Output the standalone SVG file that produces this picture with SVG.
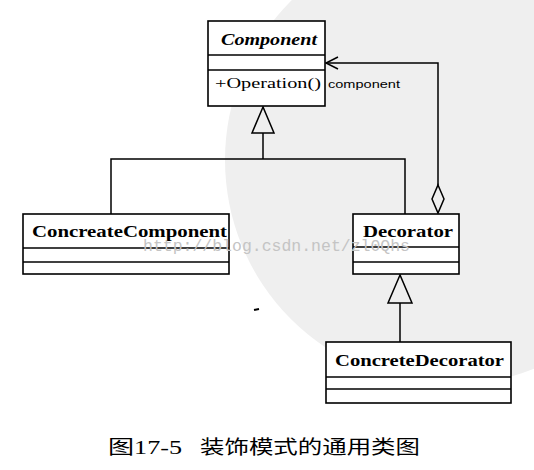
<svg xmlns="http://www.w3.org/2000/svg" width="534" height="470" viewBox="0 0 534 470">
<defs>
<style>
.box{fill:#fff;stroke:#000;stroke-width:1.6}
.ln{fill:none;stroke:#000;stroke-width:1.5}
.name{font-family:"Liberation Serif",serif;font-weight:bold;font-size:16px;fill:#000}
.it{font-style:italic}
.op{font-family:"Liberation Serif",serif;font-size:15px;fill:#000}
.lbl{font-family:"Liberation Sans",sans-serif;font-size:11px;fill:#000}
.wm{font-family:"Liberation Mono",monospace;font-size:16px;fill:#c4c4c4}
.cap{font-family:"Liberation Serif","Noto Sans CJK SC",serif;font-size:19px;fill:#000}
</style>
<clipPath id="clip"><rect x="0" y="0" width="534" height="410"/></clipPath>
</defs>
<rect width="534" height="470" fill="#fff"/>
<g clip-path="url(#clip)">
<circle cx="450" cy="160" r="225" fill="#efefef"/>
</g>
<g id="connectors">
<polyline class="ln" points="263,133 263,159"/>
<polyline class="ln" points="111,214 111,159 405,159 405,214"/>
<polygon class="ln" points="263,107 252,133 274,133" fill="#fff"/>
<polyline class="ln" points="438,185 438,63 326,63"/>
<polyline class="ln" points="338,57 326,63 338,69"/>
<polygon class="ln" points="438,185 444,199 438,213 432,199" fill="#fff"/>
<polyline class="ln" points="400,303 400,342"/>
<polygon class="ln" points="400,275 388,303 412,303" fill="#fff"/>
</g>
<g id="Component">
<rect class="box" x="208" y="21" width="117" height="85"/>
<line class="ln" x1="208" y1="55" x2="325" y2="55"/>
<line class="ln" x1="208" y1="70" x2="325" y2="70"/>
<text class="name it" x="221" y="45" textLength="96" lengthAdjust="spacingAndGlyphs">Component</text>
<text class="op" x="215" y="88" textLength="106" lengthAdjust="spacingAndGlyphs">+Operation()</text>
<text class="lbl" x="328" y="88" textLength="72" lengthAdjust="spacingAndGlyphs">component</text>
</g>
<g id="ConcreateComponent">
<rect class="box" x="23" y="214" width="206" height="60"/>
<line class="ln" x1="23" y1="248" x2="229" y2="248"/>
<line class="ln" x1="23" y1="262" x2="229" y2="262"/>
<text class="name" x="32" y="237" textLength="195" lengthAdjust="spacingAndGlyphs">ConcreateComponent</text>
</g>
<g id="Decorator">
<rect class="box" x="353" y="214" width="106" height="60"/>
<line class="ln" x1="353" y1="247" x2="459" y2="247"/>
<line class="ln" x1="353" y1="262" x2="459" y2="262"/>
<text class="name" x="363" y="237" textLength="90" lengthAdjust="spacingAndGlyphs">Decorator</text>
</g>
<g id="ConcreteDecorator">
<rect class="box" x="326" y="342" width="185" height="61"/>
<line class="ln" x1="326" y1="377" x2="511" y2="377"/>
<line class="ln" x1="326" y1="389" x2="511" y2="389"/>
<text class="name" x="335" y="366" textLength="169" lengthAdjust="spacingAndGlyphs">ConcreteDecorator</text>
</g>
<text class="wm" x="143" y="251" textLength="267" lengthAdjust="spacingAndGlyphs">http://blog.csdn.net/zl0Qhs</text>
<path d="M254,310 L259,309" stroke="#000" stroke-width="2"/>
<text class="cap" x="108" y="454" textLength="74" lengthAdjust="spacingAndGlyphs">图17-5</text>
<text class="cap" x="200" y="454" textLength="220" lengthAdjust="spacingAndGlyphs">装饰模式的通用类图</text>
</svg>
